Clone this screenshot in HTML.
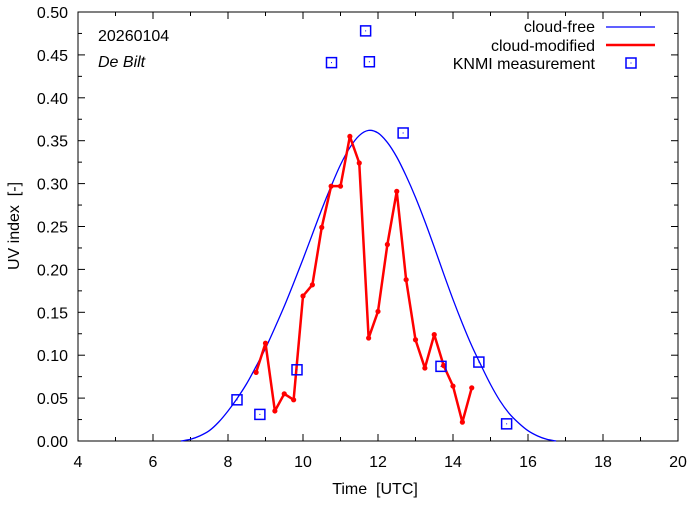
<!DOCTYPE html>
<html><head><meta charset="utf-8"><style>
body{margin:0;background:#fff}
svg text{font-family:"Liberation Sans",sans-serif;font-size:16px;fill:#000;white-space:pre}
</style></head><body>
<svg id="chart" width="694" height="501">
<rect x="78" y="12" width="600" height="429" fill="none" stroke="#000" stroke-width="1"/>
<g id="axes"></g>
<g id="series"></g>
<text x="98" y="41">20260104</text>
<text x="98" y="67" font-style="italic">De Bilt</text>
<text x="375" y="494" text-anchor="middle">Time  [UTC]</text>
<text x="19" y="226" text-anchor="middle" transform="rotate(-90 19 226)">UV index  [-]</text>
<g>
<text x="595" y="32" text-anchor="end">cloud-free</text>
<line x1="606" y1="27" x2="655" y2="27" stroke="#0000ff" stroke-width="1.2"/>
<text x="595" y="51" text-anchor="end">cloud-modified</text>
<line x1="606" y1="45" x2="655" y2="45" stroke="#ff0000" stroke-width="2.5"/>
<text x="595" y="69" text-anchor="end">KNMI measurement</text>
<rect x="626" y="58" width="10" height="10" fill="none" stroke="#0000ff" stroke-width="1.5"/>
<rect x="630.5" y="62.5" width="1" height="1" fill="#0000ff"/>
</g>
</svg>
<script>
const clearT=[6.75,7,7.25,7.5,7.75,8,8.25,8.5,8.75,9,9.25,9.5,9.75,10,10.25,10.5,10.75,11,11.25,11.5,11.75,12,12.25,12.5,12.75,13,13.25,13.5,13.75,14,14.25,14.5,14.75,15,15.25,15.5,15.75,16,16.25,16.5,16.75];
const clearV=[0,0.002,0.006,0.012,0.022,0.035,0.05,0.067,0.087,0.108,0.132,0.157,0.184,0.212,0.241,0.27,0.297,0.322,0.342,0.356,0.362,0.359,0.348,0.331,0.309,0.284,0.256,0.226,0.195,0.165,0.137,0.111,0.088,0.066,0.047,0.032,0.021,0.012,0.006,0.002,0];
const cloudT=[8.75,9,9.25,9.5,9.75,10,10.25,10.5,10.75,11,11.25,11.5,11.75,12,12.25,12.5,12.75,13,13.25,13.5,13.75,14,14.25,14.5];
const cloudV=[0.080,0.114,0.035,0.055,0.048,0.169,0.182,0.249,0.297,0.297,0.355,0.324,0.120,0.151,0.229,0.291,0.188,0.118,0.085,0.124,0.088,0.064,0.022,0.062];
const measT=[8.24,8.85,9.84,10.76,11.67,11.77,12.67,13.68,14.69,15.43];
const measV=[0.048,0.031,0.083,0.441,0.478,0.442,0.359,0.087,0.092,0.020];
const xTicks=[4,6,8,10,12,14,16,18,20];
const yTicks=["0.00","0.05","0.10","0.15","0.20","0.25","0.30","0.35","0.40","0.45","0.50"];
const NS="http://www.w3.org/2000/svg";
const X=t=>78+(t-4)*37.5, Y=v=>441-v*858;
function mk(tag,attrs,parent){const e=document.createElementNS(NS,tag);for(const k in attrs)e.setAttribute(k,attrs[k]);parent.appendChild(e);return e;}
const ax=document.getElementById('axes'), se=document.getElementById('series');
for(let h=4;h<=20;h++){const x=X(h),L=(h%2==0)?7:4;
 mk('line',{x1:x,y1:441,x2:x,y2:441-L,stroke:'#000'},ax);mk('line',{x1:x,y1:12,x2:x,y2:12+L,stroke:'#000'},ax);}
xTicks.forEach(t=>{const e=mk('text',{x:X(t),y:467,'text-anchor':'middle'},ax);e.textContent=t;

});
for(let i=0;i<=20;i++){const v=i*0.025,y=Y(v),L=(i%2==0)?7:4;
 mk('line',{x1:78,y1:y,x2:78+L,y2:y,stroke:'#000'},ax);mk('line',{x1:678,y1:y,x2:678-L,y2:y,stroke:'#000'},ax);}
yTicks.forEach(s=>{const e=mk('text',{x:68,y:Y(+s)+6,'text-anchor':'end'},ax);e.textContent=s;

});
const P=clearT.map((t,i)=>[X(t),Y(clearV[i])]);
let d='M'+P[0][0]+','+P[0][1];
for(let i=0;i<P.length-1;i++){const p0=P[Math.max(0,i-1)],p1=P[i],p2=P[i+1],p3=P[Math.min(P.length-1,i+2)];
 d+=' C'+(p1[0]+(p2[0]-p0[0])/6)+','+(p1[1]+(p2[1]-p0[1])/6)+' '+(p2[0]-(p3[0]-p1[0])/6)+','+(p2[1]-(p3[1]-p1[1])/6)+' '+p2[0]+','+p2[1];}
const cf=mk('path',{d:d,fill:'none',stroke:'#0000ff','stroke-width':1.3},se);


const cm=mk('polyline',{points:cloudT.map((t,i)=>X(t)+','+Y(cloudV[i])).join(' '),fill:'none',stroke:'#ff0000','stroke-width':2.5,'stroke-linejoin':'round'},se);


cloudT.forEach((t,i)=>{const c=mk('circle',{cx:X(t),cy:Y(cloudV[i]),r:2.6,fill:'#ff0000'},se);

});
measT.forEach((t,i)=>{const x=X(t),y=Y(measV[i]);
 const r=mk('rect',{x:x-5,y:y-5,width:10,height:10,fill:'none',stroke:'#0000ff','stroke-width':1.5},se);
 
 
 mk('rect',{x:x-0.5,y:y-0.5,width:1,height:1,fill:'#0000ff'},se);});
</script>
</body></html>
